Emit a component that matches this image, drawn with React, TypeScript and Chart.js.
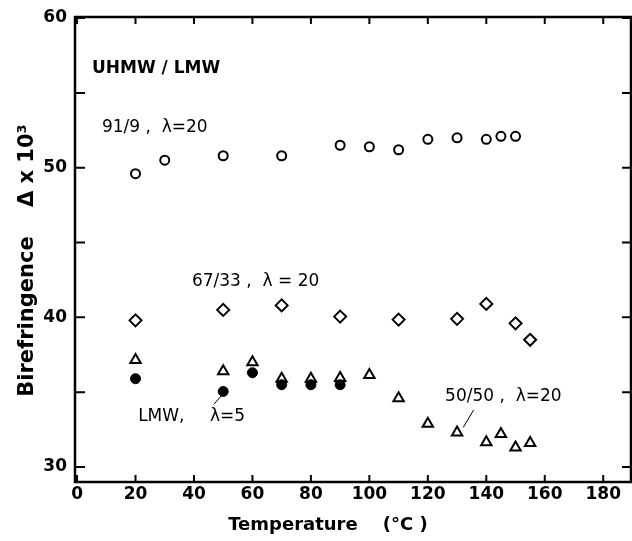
import React, { useEffect, useRef } from "react";
import { Chart, registerables } from "chart.js";

Chart.register(...registerables);

// ---- data ----
const temps9109 = [20, 30, 50, 70, 90, 100, 110, 120, 130, 140, 145, 150];
const biref9109 = [49.6, 50.5, 50.8, 50.8, 51.5, 51.4, 51.2, 51.9, 52.0, 51.9, 52.1, 52.1];

const temps6733 = [20, 50, 70, 90, 110, 130, 140, 150, 155];
const biref6733 = [39.8, 40.5, 40.8, 40.05, 39.85, 39.9, 40.9, 39.6, 38.5];

const temps5050 = [20, 50, 60, 70, 80, 90, 100, 110, 120, 130, 140, 145, 150, 155];
const biref5050 = [37.15, 36.4, 37.0, 35.9, 35.9, 35.95, 36.15, 34.6, 32.9, 32.3, 31.65, 32.2, 31.3, 31.6];

const tempsLMW = [20, 50, 60, 70, 80, 90];
const birefLMW = [35.9, 35.05, 36.3, 35.5, 35.5, 35.5];

const xTickValues = [0, 20, 40, 60, 80, 100, 120, 140, 160, 180];
const yTickValues = [30, 35, 40, 45, 50, 55, 60];
const yLabelledTicks = [30, 40, 50, 60];

const xTitle = "Temperature    (°C )        ";
const yTitle = "Birefringence    Δ x 10³   ";

// annotation texts and their anchor points (data units)
const noteTexts = ["UHMW / LMW", "91/9 ,  λ=20", "67/33 ,  λ = 20", "LMW,", "λ=5", "50/50 ,  λ=20"];
const noteX = [5.1, 8.5, 39.3, 20.9, 45.5, 125.9];
const noteY = [56.6, 52.67, 42.4, 33.4, 33.4, 34.73];
const noteBold = [true, false, false, false, false, false];

// leader lines [x1, y1, x2, y2] in data units
const leaderLines = [
  [46.85, 34.2, 49.5, 34.8],
  [135.7, 33.82, 132.1, 32.65],
];

const toXY = (xs: number[], ys: number[]) => xs.map((x, i) => ({ x, y: ys[i] }));

const framePlugin = {
  id: "frameAndNotes",
  beforeDatasetsDraw(chart: any) {
    const { ctx, chartArea, scales } = chart;
    const { left, right, top, bottom } = chartArea;
    const xs = scales.x;
    const ys = scales.y;
    ctx.save();
    ctx.strokeStyle = "#000";
    ctx.lineWidth = 2.5;
    ctx.strokeRect(left, top, right - left, bottom - top);
    ctx.lineWidth = 2;
    ctx.beginPath();
    yTickValues.forEach((v) => {
      const p = ys.getPixelForValue(v);
      ctx.moveTo(left, p);
      ctx.lineTo(left + 10, p);
      ctx.moveTo(right, p);
      ctx.lineTo(right - 9, p);
    });
    xTickValues.forEach((v) => {
      const p = xs.getPixelForValue(v);
      ctx.moveTo(p, bottom);
      ctx.lineTo(p, bottom - 7);
      ctx.moveTo(p, top);
      ctx.lineTo(p, top + 7);
    });
    ctx.stroke();

    // leader lines
    ctx.lineWidth = 1;
    ctx.beginPath();
    leaderLines.forEach(([x1, y1, x2, y2]) => {
      ctx.moveTo(xs.getPixelForValue(x1), ys.getPixelForValue(y1));
      ctx.lineTo(xs.getPixelForValue(x2), ys.getPixelForValue(y2));
    });
    ctx.stroke();

    // annotation texts
    ctx.fillStyle = "#000";
    ctx.textAlign = "left";
    ctx.textBaseline = "middle";
    noteTexts.forEach((t, i) => {
      ctx.font = (noteBold[i] ? "bold " : "") + "17px 'DejaVu Sans'";
      ctx.fillText(t, xs.getPixelForValue(noteX[i]), ys.getPixelForValue(noteY[i]));
    });
    ctx.restore();
  },
};

export default function App() {
  const ref = useRef<HTMLCanvasElement | null>(null);
  useEffect(() => {
    if (!ref.current) return;
    const tickFont = { family: "'DejaVu Sans'", size: 17, weight: "bold" as const };
    const chart = new Chart(ref.current, {
      type: "scatter",
      data: {
        datasets: [
          {
            label: "91/9, λ=20",
            data: toXY(temps9109, biref9109),
            pointStyle: "circle",
            pointRadius: 4.5,
            borderColor: "#000",
            backgroundColor: "rgba(0,0,0,0)",
            borderWidth: 2,
          },
          {
            label: "67/33, λ=20",
            data: toXY(temps6733, biref6733),
            pointStyle: "rectRot",
            pointRadius: 6,
            borderColor: "#000",
            backgroundColor: "rgba(0,0,0,0)",
            borderWidth: 2,
          },
          {
            label: "50/50, λ=20",
            data: toXY(temps5050, biref5050),
            pointStyle: "triangle",
            pointRadius: 6,
            borderColor: "#000",
            backgroundColor: "rgba(0,0,0,0)",
            borderWidth: 2,
          },
          {
            label: "LMW, λ=5",
            data: toXY(tempsLMW, birefLMW),
            pointStyle: "circle",
            pointRadius: 5,
            borderColor: "#000",
            backgroundColor: "#000",
            borderWidth: 1,
          },
        ],
      },
      options: {
        animation: false,
        responsive: false,
        devicePixelRatio: 1,
        layout: { autoPadding: false, padding: { top: 17, right: 1, left: 0, bottom: 0 } },
        plugins: {
          legend: { display: false },
          tooltip: { enabled: false },
        },
        scales: {
          x: {
            type: "linear",
            position: "bottom",
            min: -0.7,
            max: 189.5,
            grid: { display: false, drawTicks: false },
            border: { display: false },
            afterBuildTicks: (s: any) => {
              s.ticks = xTickValues.map((v) => ({ value: v }));
            },
            afterFit: (s: any) => {
              s.height = 59;
              s.paddingLeft = 0;
              s.paddingRight = 0;
            },
            ticks: {
              color: "#000",
              font: tickFont,
              padding: 2,
              maxRotation: 0,
              autoSkip: false,
              callback: (v: any) => String(v),
            },
            title: {
              display: true,
              text: xTitle,
              color: "#000",
              font: { family: "'DejaVu Sans'", size: 18, weight: "bold" },
              padding: { top: 0, bottom: 5 },
            },
          },
          y: {
            type: "linear",
            position: "left",
            min: 29,
            max: 60.07,
            grid: { display: false, drawTicks: false },
            border: { display: false },
            afterBuildTicks: (s: any) => {
              s.ticks = yTickValues.map((v) => ({ value: v }));
            },
            afterFit: (s: any) => {
              s.width = 75;
              s.paddingTop = 0;
              s.paddingBottom = 0;
            },
            ticks: {
              color: "#000",
              font: tickFont,
              padding: 8,
              autoSkip: false,
              callback: (v: any) => (yLabelledTicks.includes(Number(v)) ? String(v) : ""),
            },
            title: {
              display: true,
              text: yTitle,
              color: "#000",
              font: { family: "'DejaVu Sans'", size: 21, weight: "bold" },
              padding: { top: 15, bottom: 0 },
            },
          },
        },
      },
      plugins: [framePlugin],
    });
    return () => chart.destroy();
  }, []);
  return (
    <div style={{ position: "fixed", left: 0, top: 0, width: 632, height: 541, background: "#fff" }}>
      <canvas ref={ref} width={632} height={541} style={{ display: "block" }} />
    </div>
  );
}
